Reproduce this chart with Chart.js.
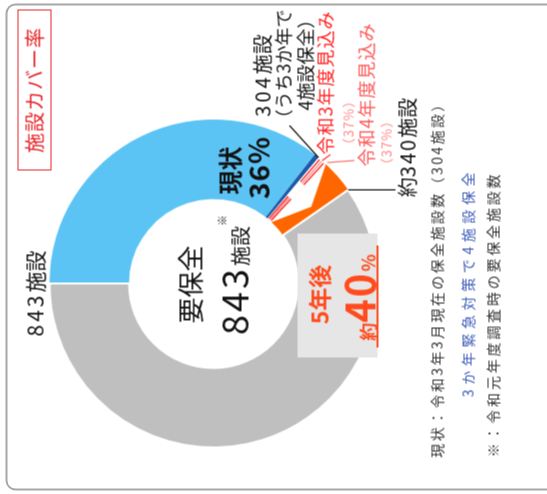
<!DOCTYPE html>
<html><head><meta charset="utf-8">
<script src="https://cdn.jsdelivr.net/npm/chart.js@4"></script>
<style>
html,body{margin:0;padding:0;width:547px;height:494px;overflow:hidden;background:#fff;}
#rot{position:absolute;left:26.5px;top:-26.5px;width:494px;height:547px;transform:rotate(-90deg);transform-origin:50% 50%;font-family:"Noto Sans CJK JP","Noto Sans",sans-serif;color:#111;}
#frame{position:absolute;left:4px;top:5px;width:487px;height:620px;border:2.5px solid #a8a8a8;border-radius:10px;box-sizing:border-box;}
canvas{position:absolute;left:0;top:0;}
.t{position:absolute;white-space:nowrap;transform:translate(-50%,-50%);line-height:1;}
#box5{position:absolute;left:137px;top:297px;width:124px;height:80px;background:#e6e6e6;}
#title{position:absolute;left:324px;top:17px;width:161px;height:34px;border:1.5px solid #e8262a;box-sizing:border-box;color:#e8262a;font-size:20px;line-height:31px;text-align:center;letter-spacing:1px;}
</style>
</head><body>
<div id="rot">
  <div id="frame"></div>
  <canvas id="c" width="494" height="547"></canvas>
  <div id="box5"></div>
  <div id="title">施設カバー率</div>
  <div class="t" style="left:201px;top:34px;font-size:21px;"><span style="letter-spacing:3px">843</span>施設</div>
  <div class="t" style="left:210px;top:189px;font-size:26px;">要保全</div>
  <div class="t" style="left:214px;top:232px;"><span style="font-size:36px;letter-spacing:3px">843</span><span style="font-size:20px">施設</span></div>
  <div class="t" style="left:274px;top:221px;font-size:11px;">※</div>
  <div class="t" style="left:324px;top:229px;font-size:24px;font-weight:bold;">現状</div>
  <div class="t" style="left:327px;top:257px;font-size:28px;font-weight:bold;letter-spacing:1px;">36%</div>
  <div class="t" style="left:419px;top:262px;font-size:20px;"><span style="letter-spacing:3px">304</span>施設</div>
  <div class="t" style="left:426px;top:282px;font-size:18px;">（うち3か年で</div>
  <div class="t" style="left:434px;top:304px;font-size:18px;">4施設保全）</div>
  <div class="t" style="left:412px;top:324px;font-size:18px;letter-spacing:1px;color:#ff2424;">令和3年度見込み</div>
  <div class="t" style="left:372px;top:347px;font-size:13px;letter-spacing:1px;color:#ff8a8a;">（37%）</div>
  <div class="t" style="left:400px;top:365px;font-size:18px;letter-spacing:1px;color:#ff5a5a;">令和4年度見込み</div>
  <div class="t" style="left:352px;top:385px;font-size:13px;letter-spacing:1px;color:#ff8a8a;">（37%）</div>
  <div class="t" style="left:347px;top:407px;font-size:20px;">約<span style="letter-spacing:2px">340</span>施設</div>
  <div class="t" style="left:200px;top:318px;font-size:23px;font-weight:bold;color:#ff4b1e;">5年後</div>
  <div class="t" style="left:197px;top:358px;color:#ff4b1e;font-weight:bold;"><span style="font-size:18px">約</span><span style="font-size:40px;letter-spacing:2px">40</span><span style="font-size:18px">%</span></div>
  <div style="position:absolute;left:147px;top:376px;width:102px;height:1.5px;background:#ff4b1e;"></div>
  <div class="t" style="left:218px;top:436px;font-size:14px;letter-spacing:2.4px;color:#333;">現状：令和3年3月現在の保全施設数（304施設）</div>
  <div class="t" style="left:212px;top:467px;font-size:14px;letter-spacing:4.6px;color:#3d5cb8;">3か年緊急対策で4施設保全</div>
  <div class="t" style="left:180px;top:492px;font-size:14px;letter-spacing:2.8px;color:#333;">※：令和元年度調査時の要保全施設数</div>
</div>
<script>
// Data (facility counts, total 843)
const segLabels = ['保全済（現状）', '3か年緊急対策', '令和3・4年度見込み', '5年後見込み', '未保全'];
const segValues = [300, 4, 8, 28, 503];
const segColors = ['#5bc4f5', '#1d5aa6', '#ffffff', '#ff6600', '#bfbfbf'];
const segBorders = [0, 0, 0, 0, 2];

const overlay = {
  id: 'overlay',
  afterDatasetsDraw(chart) {
    const ctx = chart.ctx;
    const arcs = chart.getDatasetMeta(0).data;
    const G = a => a.getProps(['x','y','startAngle','endAngle','innerRadius','outerRadius'], true);
    const P = (g, a, r) => [g.x + Math.cos(a) * r, g.y + Math.sin(a) * r];
    ctx.save();
    // stripes in the R3/R4 segment
    const s = G(arcs[2]);
    const T = s.outerRadius - s.innerRadius;
    [[0.22, '#ff2a2a'], [0.5, '#ff8f8f'], [0.78, '#ff2a2a']].forEach(([f, c]) => {
      const a = s.startAngle + (s.endAngle - s.startAngle) * f;
      ctx.strokeStyle = c; ctx.lineWidth = 1.4;
      ctx.beginPath();
      ctx.moveTo(...P(s, a, s.outerRadius - 1)); ctx.lineTo(...P(s, a, s.outerRadius - 0.38 * T));
      ctx.moveTo(...P(s, a, s.innerRadius + 0.38 * T)); ctx.lineTo(...P(s, a, s.innerRadius + 1));
      ctx.stroke();
    });
    // chevron notch in orange segment
    const o = G(arcs[3]);
    ctx.fillStyle = '#ffffff';
    ctx.beginPath();
    ctx.moveTo(...P(o, o.startAngle - 0.003, o.outerRadius + 1));
    ctx.lineTo(...P(o, o.startAngle + (o.endAngle - o.startAngle) * 0.72, (o.innerRadius + o.outerRadius) / 2));
    ctx.lineTo(...P(o, o.startAngle - 0.003, o.innerRadius - 1));
    ctx.closePath(); ctx.fill();
    // leader lines
    const d = G(arcs[1]);
    ctx.lineWidth = 1.2;
    ctx.strokeStyle = '#111';
    ctx.beginPath(); ctx.moveTo(...P(d, d.endAngle, d.outerRadius)); ctx.lineTo(369, 289); ctx.stroke();
    ctx.strokeStyle = '#ff2424';
    ctx.beginPath(); ctx.moveTo(...P(s, (s.startAngle + s.endAngle) / 2, s.outerRadius)); ctx.lineTo(340, 330); ctx.stroke();
    ctx.strokeStyle = '#ff7070';
    ctx.beginPath(); ctx.moveTo(...P(o, o.startAngle, o.outerRadius + 2)); ctx.lineTo(334, 354); ctx.stroke();
    const e = P(o, o.endAngle, o.outerRadius);
    ctx.strokeStyle = '#111';
    ctx.beginPath(); ctx.moveTo(e[0], e[1]); ctx.lineTo(e[0], 395); ctx.stroke();
    ctx.restore();
  }
};

new Chart(document.getElementById('c'), {
  type: 'doughnut',
  data: {
    labels: segLabels,
    datasets: [{
      data: segValues,
      backgroundColor: segColors,
      borderColor: '#ffffff',
      borderWidth: segBorders,
      hoverOffset: 0,
      offset: 0
    }]
  },
  options: {
    responsive: false,
    animation: false,
    events: [],
    cutout: '51.5%',
    rotation: 0,
    layout: { padding: { left: 46, right: 118, top: 48, bottom: 169 } },
    plugins: { legend: { display: false }, tooltip: { enabled: false } }
  },
  plugins: [overlay]
});
</script>
</body></html>
